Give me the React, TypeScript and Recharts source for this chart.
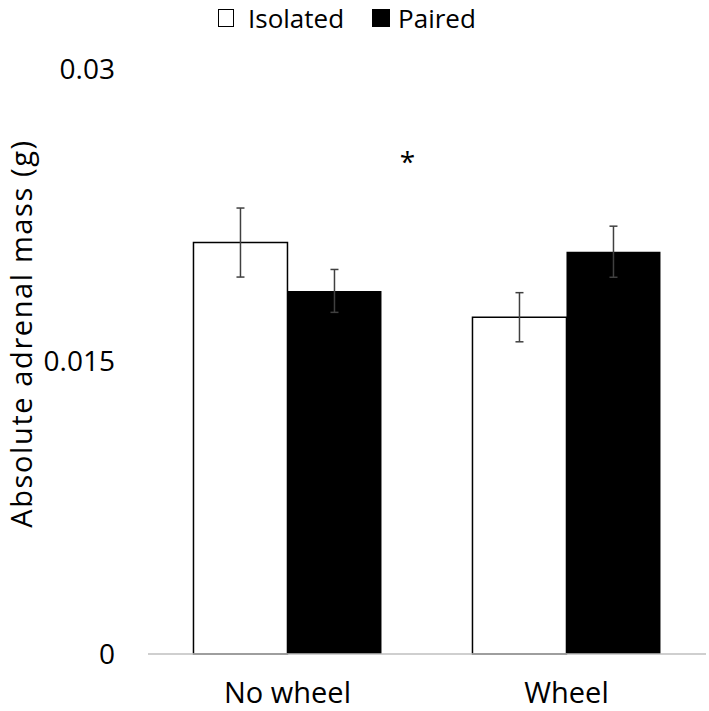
import { BarChart, Bar, XAxis, YAxis, ErrorBar, Legend, ReferenceDot } from 'recharts';

// Absolute adrenal mass (g), means with error
const groups = ['No wheel', 'Wheel'];
const isolated = [0.0211, 0.01727];
const isolatedErr = [0.00177, 0.00126];
const paired = [0.01862, 0.02063];
const pairedErr = [0.0011, 0.00131];
const yTicks = [0, 0.015, 0.03];
const star = { text: '*', value: 0.0253 };

const data = groups.map((g, i) => ({
  group: g,
  isolated: isolated[i],
  isolatedErr: isolatedErr[i],
  paired: paired[i],
  pairedErr: pairedErr[i],
}));

const font = '"Open Sans", sans-serif';

const keyStyles: Record<string, { fill: string; border: string; w: number; gap: number }> = {
  Isolated: { fill: '#fff', border: '#000', w: 16, gap: 14 },
  Paired: { fill: '#000', border: '#000', w: 18, gap: 8 },
};

function LegendKeys(props: any) {
  const items = props.payload || [];
  return (
    <div
      style={{
        display: 'flex',
        justifyContent: 'flex-start',
        alignItems: 'center',
        paddingLeft: 218,
        fontFamily: font,
        fontSize: 26,
        lineHeight: 'normal',
        color: '#000',
      }}
    >
      {items.map((it: any, i: number) => {
        const s = keyStyles[it.value] || { fill: it.color, border: it.color, w: 16, gap: 10 };
        return (
          <div key={it.value} style={{ display: 'flex', alignItems: 'center', marginLeft: i ? 28 : 0 }}>
            <span
              style={{
                display: 'inline-block',
                width: s.w,
                height: 18,
                background: s.fill,
                border: `1px solid ${s.border}`,
                boxSizing: 'border-box',
                marginRight: s.gap,
              }}
            />
            <span>{it.value}</span>
          </div>
        );
      })}
    </div>
  );
}

function YTitle(props: any) {
  const vb = props.viewBox;
  const x = 32;
  const y = vb.y + vb.height / 2 - 28;
  return (
    <text
      x={x}
      y={y}
      transform={`rotate(-90, ${x}, ${y})`}
      textAnchor="middle"
      fontFamily={font}
      fontSize={29}
      letterSpacing={1.6}
      fill="#000"
    >
      Absolute adrenal mass (g)
    </text>
  );
}

function Star(props: any) {
  return (
    <text x={props.cx + 120} y={props.cy + 11} textAnchor="middle" fontFamily={font} fontSize={28} fill="#000">
      {star.text}
    </text>
  );
}

export default function App() {
  return (
    <div style={{ position: 'absolute', left: 0, top: 0, background: '#fff' }}>
      <BarChart
        width={709}
        height={711}
        data={data}
        margin={{ top: 69, right: 3, left: 0, bottom: 0 }}
        barCategoryGap="16.3%"
        barGap={0}
      >
        <XAxis
          dataKey="group"
          height={57}
          axisLine={{ stroke: '#bfbfbf', strokeWidth: 1.5 }}
          tickLine={false}
          tickSize={0}
          tickMargin={28}
          tick={{ fill: '#000', fontSize: 29, fontFamily: font }}
        />
        <YAxis
          width={148}
          domain={[0, 0.03]}
          ticks={yTicks}
          axisLine={false}
          tickLine={false}
          tickSize={0}
          tickMargin={33}
          tick={{ fill: '#000', fontSize: 28, fontFamily: font }}
          label={{ content: YTitle }}
        />
        <Legend
          verticalAlign="middle"
          align="center"
          content={LegendKeys}
          wrapperStyle={{ top: 0, left: 0, width: 709 }}
        />
        <Bar dataKey="isolated" name="Isolated" fill="#fff" stroke="#000" strokeWidth={1.5} isAnimationActive={false}>
          <ErrorBar dataKey="isolatedErr" width={4} stroke="#404040" strokeWidth={1.5} />
        </Bar>
        <Bar dataKey="paired" name="Paired" fill="#000" isAnimationActive={false}>
          <ErrorBar dataKey="pairedErr" width={4} stroke="#404040" strokeWidth={1.5} />
        </Bar>
        <ReferenceDot x="No wheel" y={star.value} r={0} shape={Star} />
      </BarChart>
    </div>
  );
}
